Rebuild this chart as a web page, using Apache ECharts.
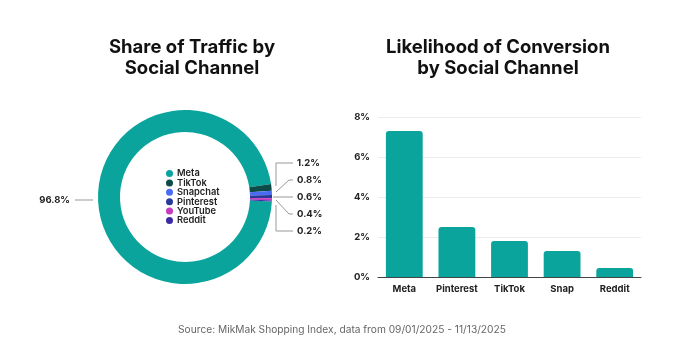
<!DOCTYPE html>
<html>
<head>
<meta charset="utf-8">
<script src="https://cdn.jsdelivr.net/npm/echarts@6/dist/echarts.min.js"></script>
<style>
html,body{margin:0;padding:0;background:#fff;}
#c{width:684px;height:357px;}
</style>
</head>
<body>
<div id="c"></div>
<script>
const pieNames = ['Meta', 'TikTok', 'Snapchat', 'Pinterest', 'YouTube', 'Reddit'];
const pieValues = [96.8, 1.2, 0.8, 0.6, 0.4, 0.2];
const pieColors = ['#0aa49d', '#0c4b47', '#4a6cf2', '#27399a', '#c43bc0', '#3a2aa6'];

const barCategories = ['Meta', 'Pinterest', 'TikTok', 'Snap', 'Reddit'];
const barValues = [7.3, 2.5, 1.8, 1.3, 0.45];
const yTicks = [0, 2, 4, 6, 8];

const FONT = 'Inter, "Noto Sans", sans-serif';
const CX = 185, CY = 197, R_OUT = 87, R_IN = 65;

const chart = echarts.init(document.getElementById('c'));

function labelLayout(p) {
  const i = p.dataIndex;
  const lx = CX + R_OUT + 4;      // line start x
  const hx = lx + 17;             // horizontal end x
  const tx = hx + 4;              // text x
  const gap = 17;
  if (i === 0) {
    const y = CY + 3;
    return { x: CX - R_OUT - 28, y: y, align: 'right', verticalAlign: 'middle',
      labelLinePoints: [[CX - R_OUT - 5, y], [CX - R_OUT - 15, y], [CX - R_OUT - 23, y]] };
  }
  const k = i - 3; // offset from middle label (Pinterest)
  const ty = CY + k * gap;
  let pts;
  if (i === 1) pts = [[lx, CY - 11], [lx, ty], [hx, ty]];
  else if (i === 2) pts = [[lx, CY - 5], [lx + 13, ty], [hx, ty]];
  else if (i === 3) pts = [[lx - 3, ty], [lx + 5, ty], [hx, ty]];
  else if (i === 4) pts = [[lx, CY + 3], [lx + 13, ty], [hx, ty]];
  else pts = [[lx, CY + 8], [lx, ty], [hx, ty]];
  return { x: tx, y: ty, align: 'left', verticalAlign: 'middle', labelLinePoints: pts };
}

const option = {
  animation: false,
  backgroundColor: '#fff',
  textStyle: { fontFamily: FONT },
  title: [
    { text: 'Share of Traffic by\nSocial Channel', left: 187, top: 32, textAlign: 'center',
      textStyle: { fontFamily: FONT, fontSize: 18.5, fontWeight: 'bold', color: '#111', lineHeight: 21 } },
    { text: 'Likelihood of Conversion\nby Social Channel', left: 493, top: 32, textAlign: 'center',
      textStyle: { fontFamily: FONT, fontSize: 18.5, fontWeight: 'bold', color: '#111', lineHeight: 21 } },
    { text: 'Source: MikMak Shopping Index, data from 09/01/2025 - 11/13/2025', left: 337, top: 320, textAlign: 'center',
      textStyle: { fontFamily: FONT, fontSize: 10.2, fontWeight: 'normal', color: '#666' } }
  ],
  legend: {
    data: pieNames,
    orient: 'vertical',
    left: 161, top: 164,
    icon: 'circle',
    itemWidth: 7, itemHeight: 7, itemGap: 0.4,
    textStyle: { fontFamily: FONT, fontSize: 9.3, fontWeight: 600, color: '#222', lineHeight: 9, padding: [0, 0, 0, -1] },
    selectedMode: false
  },
  grid: { left: 378, right: 43, top: 117, bottom: 80 },
  xAxis: {
    type: 'category',
    data: barCategories,
    axisLine: { lineStyle: { color: '#444', width: 1 } },
    axisTick: { show: false },
    axisLabel: { interval: 0, fontFamily: FONT, fontSize: 9.5, fontWeight: 'bold', color: '#222', margin: 7 }
  },
  yAxis: {
    type: 'value',
    min: yTicks[0], max: yTicks[yTicks.length - 1], interval: 2,
    axisLine: { show: false },
    axisTick: { show: false },
    splitLine: { lineStyle: { color: '#ececec' } },
    axisLabel: { fontFamily: FONT, fontSize: 9.5, fontWeight: 'bold', color: '#222', margin: 8, formatter: '{value}%' }
  },
  series: [
    {
      type: 'pie',
      center: [CX, CY],
      radius: [R_IN, R_OUT],
      startAngle: -3,
      clockwise: true,
      avoidLabelOverlap: false,
      data: pieNames.map((n, i) => ({ name: n, value: pieValues[i], itemStyle: { color: pieColors[i] } })),
      label: {
        show: true, position: 'outside',
        formatter: p => p.value.toFixed(1) + '%',
        fontFamily: FONT, fontSize: 9.5, fontWeight: 'bold', color: '#222'
      },
      labelLine: { show: true, lineStyle: { color: '#999', width: 1 } },
      labelLayout: labelLayout,
      emphasis: { disabled: true }
    },
    {
      type: 'bar',
      data: barValues,
      barWidth: '70%',
      itemStyle: { color: '#0aa49d', borderRadius: [3, 3, 0, 0] }
    }
  ]
};
chart.setOption(option);
</script>
</body>
</html>
